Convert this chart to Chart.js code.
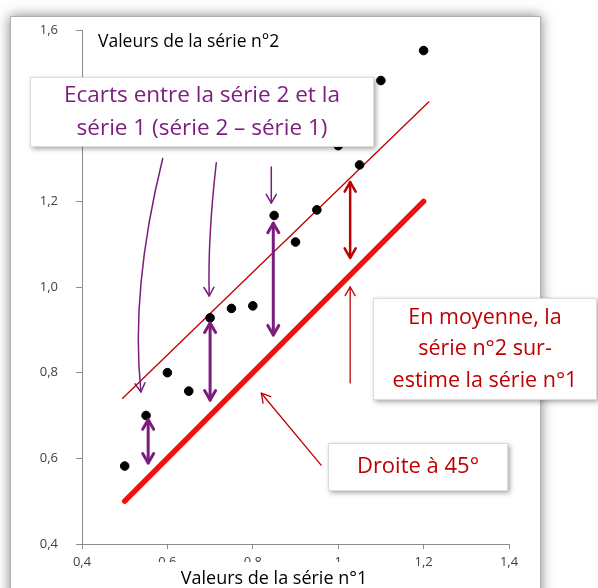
<!DOCTYPE html>
<html>
<head>
<meta charset="utf-8">
<script src="https://cdn.jsdelivr.net/npm/chart.js@4/dist/chart.umd.min.js"></script>
<style>
  body { margin: 0; background: #fff; }
  #wrap { width: 598px; height: 588px; position: relative; }
</style>
</head>
<body>
<div id="wrap"><canvas id="chart"></canvas></div>
<script>
// serie 1 (x) vs serie 2 (y)
const serie1 = [0.5, 0.55, 0.6, 0.65, 0.7, 0.75, 0.8, 0.85, 0.9, 0.95, 1.0, 1.05, 1.1, 1.2];
const serie2 = [0.582, 0.70, 0.80, 0.757, 0.928, 0.95, 0.956, 1.167, 1.105, 1.18, 1.33, 1.285, 1.482, 1.552];

// droite a 45 degres et droite decalee
const droiteX = [0.5, 1.2];
const droiteY = [0.5, 1.2];
const decaleX = [0.494, 1.213];
const decaleY = [0.739, 1.433];

const xTitle = 'Valeurs de la série n°1';
const yTitle = 'Valeurs de la série n°2';
const boxEcarts = ['Ecarts entre la série 2 et la', 'série 1 (série 2 – série 1)'];
const boxMoyenne = ['En moyenne, la', 'série n°2 sur-', 'estime la série n°1'];
const boxDroite = ['Droite à 45°'];

const PURPLE = '#7b1c7e';
const DARKRED = '#c00000';
const FONT = '"Open Sans", sans-serif';

// arrows in data units: from, to, optional control point for curves
const arrows = [
  { from: [0.555, 0.69], to: [0.555, 0.589], both: true, color: PURPLE, width: 3 },
  { from: [0.70, 0.916], to: [0.70, 0.736], both: true, color: PURPLE, width: 3 },
  { from: [0.848, 1.149], to: [0.848, 0.888], both: true, color: PURPLE, width: 3 },
  { from: [0.589, 1.30], ctrl: [0.513, 0.993], to: [0.538, 0.755], color: PURPLE, width: 1.5 },
  { from: [0.7145, 1.29], ctrl: [0.694, 1.11], to: [0.698, 0.979], color: PURPLE, width: 1.5 },
  { from: [0.8433, 1.28], to: [0.8433, 1.196], color: PURPLE, width: 1.5 },
  { from: [1.028, 1.245], to: [1.028, 1.068], both: true, color: DARKRED, width: 2.5 },
  { from: [1.028, 0.776], to: [1.028, 1.0], color: DARKRED, width: 1.3 },
  { from: [0.96, 0.584], to: [0.82, 0.752], color: DARKRED, width: 1.3 }
];

function head(ctx, tip, dx, dy, size) {
  const len = Math.hypot(dx, dy);
  const ux = dx / len, uy = dy / len;
  const a = Math.PI / 6;
  ctx.beginPath();
  ctx.moveTo(tip[0] - size * (ux * Math.cos(a) - uy * Math.sin(a)), tip[1] - size * (uy * Math.cos(a) + ux * Math.sin(a)));
  ctx.lineTo(tip[0], tip[1]);
  ctx.lineTo(tip[0] - size * (ux * Math.cos(a) + uy * Math.sin(a)), tip[1] - size * (uy * Math.cos(a) - ux * Math.sin(a)));
  ctx.stroke();
}

function box(ctx, x, y, w, h, lines, color, size, lh) {
  ctx.save();
  ctx.shadowColor = 'rgba(0,0,0,0.35)';
  ctx.shadowBlur = 5;
  ctx.shadowOffsetX = 2;
  ctx.shadowOffsetY = 2;
  ctx.fillStyle = '#fff';
  ctx.fillRect(x, y, w, h);
  ctx.restore();
  ctx.strokeStyle = '#dcdcdc';
  ctx.lineWidth = 1;
  ctx.strokeRect(x + 0.5, y + 0.5, w - 1, h - 1);
  ctx.fillStyle = color;
  ctx.font = size + 'px ' + FONT;
  ctx.textAlign = 'center';
  ctx.textBaseline = 'middle';
  const top = y + h / 2 - (lines.length - 1) * lh / 2;
  lines.forEach((l, i) => ctx.fillText(l, x + w / 2, top + i * lh));
}

const decor = {
  id: 'decor',
  beforeDraw(chart) {
    const ctx = chart.ctx;
    ctx.save();
    ctx.fillStyle = '#fff';
    ctx.fillRect(0, 0, chart.width, chart.height);
    ctx.shadowColor = 'rgba(0,0,0,0.5)';
    ctx.shadowBlur = 12;
    ctx.fillRect(10, 16, 531, 620);
    ctx.restore();
    ctx.strokeStyle = '#b0b0b0';
    ctx.strokeRect(10.5, 16.5, 530, 620);
  },
  afterDraw(chart) {
    const ctx = chart.ctx;
    const xs = chart.scales.x, ys = chart.scales.y;
    const px = p => [xs.getPixelForValue(p[0]), ys.getPixelForValue(p[1])];
    ctx.save();
    ctx.lineCap = 'round';
    ctx.lineJoin = 'round';
    arrows.forEach(a => {
      const f = px(a.from), t = px(a.to);
      ctx.strokeStyle = a.color;
      ctx.lineWidth = a.width;
      ctx.beginPath();
      ctx.moveTo(f[0], f[1]);
      let c = null;
      if (a.ctrl) {
        c = px(a.ctrl);
        ctx.quadraticCurveTo(c[0], c[1], t[0], t[1]);
      } else {
        ctx.lineTo(t[0], t[1]);
      }
      ctx.stroke();
      const size = a.width > 2 ? 11 : 10;
      const src = c || f;
      head(ctx, t, t[0] - src[0], t[1] - src[1], size);
      if (a.both) head(ctx, f, f[0] - t[0], f[1] - t[1], size);
    });
    ctx.restore();

    ctx.save();
    ctx.fillStyle = '#000';
    ctx.font = '17.5px ' + FONT;
    ctx.textAlign = 'left';
    ctx.textBaseline = 'middle';
    ctx.fillText(yTitle, 98, 42);
    ctx.fillStyle = '#fff';
    ctx.fillRect(150, 562, 245, 26);
    ctx.fillStyle = '#000';
    ctx.font = '18px ' + FONT;
    ctx.textAlign = 'center';
    ctx.fillText(xTitle, 274, 579);

    box(ctx, 30, 77, 344, 70, boxEcarts, PURPLE, 22.5, 33);
    box(ctx, 373, 298, 224, 102, boxMoyenne, DARKRED, 21.5, 31.5);
    box(ctx, 328, 443, 180, 48, boxDroite, DARKRED, 22, 30);
    ctx.restore();
  }
};

const fmt = v => String(Math.round(v * 10) / 10).replace('.', ',');

new Chart(document.getElementById('chart'), {
  type: 'scatter',
  data: {
    datasets: [
      {
        label: 'points',
        data: serie1.map((x, i) => ({ x, y: serie2[i] })),
        backgroundColor: '#000',
        borderColor: '#000',
        pointRadius: 4.3,
      },
      {
        label: 'decalee',
        data: decaleX.map((x, i) => ({ x, y: decaleY[i] })),
        showLine: true,
        borderColor: DARKRED,
        borderWidth: 1.3,
        pointRadius: 0,
      },
      {
        label: 'droite',
        data: droiteX.map((x, i) => ({ x, y: droiteY[i] })),
        showLine: true,
        borderColor: '#f01010',
        borderWidth: 5.5,
        borderCapStyle: 'round',
        pointRadius: 0,
      }
    ]
  },
  options: {
    responsive: true,
    maintainAspectRatio: false,
    animation: false,
    layout: { padding: { left: 40, right: 89, top: 30, bottom: 14 } },
    plugins: { legend: { display: false }, tooltip: { enabled: false } },
    scales: {
      x: {
        type: 'linear', min: 0.4, max: 1.4,
        afterFit: s => { s.height = 30; },
        grid: { drawOnChartArea: false, tickLength: 5, color: '#8c8c8c' },
        border: { color: '#8c8c8c' },
        ticks: { stepSize: 0.2, padding: 5, color: '#404040', font: { family: FONT, size: 13 }, callback: fmt }
      },
      y: {
        type: 'linear', min: 0.4, max: 1.6,
        afterFit: s => { s.width = 42; },
        grid: { drawOnChartArea: false, tickLength: 6, color: '#8c8c8c' },
        border: { color: '#8c8c8c' },
        ticks: { stepSize: 0.2, padding: 18, color: '#404040', font: { family: FONT, size: 13 }, callback: v => v.toFixed(1).replace('.', ',') }
      }
    }
  },
  plugins: [decor]
});
</script>
</body>
</html>
